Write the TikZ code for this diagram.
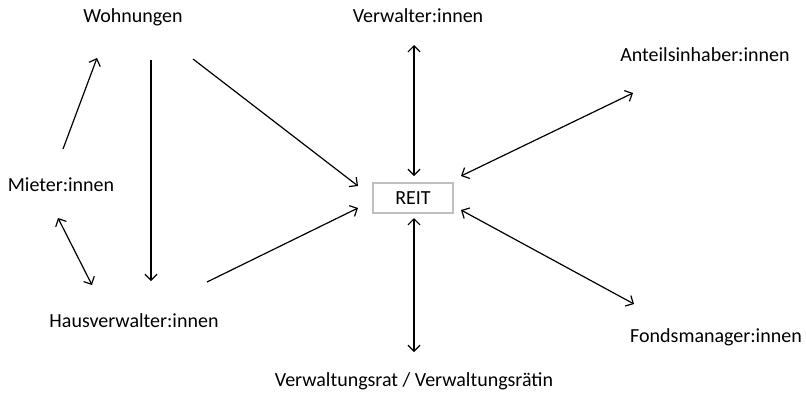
\documentclass[tikz,border=0pt]{standalone}
\usepackage{fontspec}
\setmainfont{Carlito}
\usetikzlibrary{arrows.meta,calc}

\tikzset{
  lbl/.style={inner sep=0.75pt,font=\fontsize{15}{18}\selectfont},
  reitbox/.style={draw={rgb,255:red,191;green,191;blue,191},line width=1.6pt,
    minimum width=60pt,minimum height=22.5pt,inner sep=0pt,font=\fontsize{15}{18}\selectfont},
  arr/.style={line width=0.9pt,-{Straight Barb[length=4.5pt,width=9pt]}},
  darr/.style={line width=0.9pt,{Straight Barb[length=4.5pt,width=9pt]}-{Straight Barb[length=4.5pt,width=9pt]}}
}

\begin{document}
\begin{tikzpicture}[x=0.75pt,y=0.75pt,yscale=-1,xscale=1]
\useasboundingbox (0,0) rectangle (806,394);

\draw (133,17) node [lbl] (wohn) {Wohnungen};
\draw (418,16) node [lbl] (verw) {Verwalter:innen};
\draw (705,55) node [lbl] (anteil) {Anteilsinhaber:innen};
\draw (61,185) node [lbl] (mieter) {Mieter:innen};
\draw (413,198) node [reitbox] (reit) {REIT};
\draw (134,321) node [lbl] (haus) {Hausverwalter:innen};
\draw (716,337) node [lbl] (fonds) {Fondsmanager:innen};
\draw (414,381) node [lbl] (rat) {Verwaltungsrat / Verwaltungsrätin};

\draw [arr] ($(mieter)+(2,-36)$) -- ($(wohn)+(-36,41)$);
\draw [arr] ($(wohn)+(18,43)$) -- ($(haus)+(17,-40)$);
\draw [arr] ($(wohn)+(60,42)$) -- ($(reit)+(-55,-12)$);
\draw [darr] ($(mieter)+(-3,33)$) -- ($(haus)+(-42,-36)$);
\draw [arr] ($(haus)+(73,-39)$) -- ($(reit)+(-55,10)$);
\draw [darr] ($(verw)+(-4,29)$) -- ($(reit)+(1,-22)$);
\draw [darr] ($(anteil)+(-72,38)$) -- ($(reit)+(48,-22)$);
\draw [darr] ($(reit)+(48,12)$) -- ($(fonds)+(-82,-33)$);
\draw [darr] ($(reit)+(1,20)$) -- ($(rat)+(0,-29)$);

\end{tikzpicture}
\end{document}
